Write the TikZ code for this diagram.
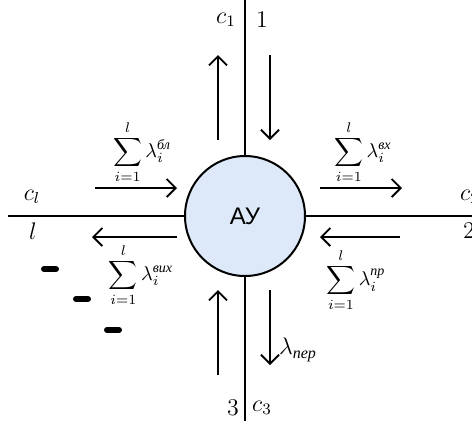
\documentclass[tikz,border=0pt]{standalone}
\usepackage{amsmath}
\usepackage{fontspec}
\usetikzlibrary{arrows.meta}
\newfontfamily\cyrsans{Liberation Sans}
\newfontfamily\cyrserif{Liberation Serif}
\newcommand{\flowidx}[1]{\text{\cyrserif\itshape #1}}
\definecolor{aufill}{RGB}{221,233,248}

\begin{document}
\begin{tikzpicture}[
    x=0.5pt, y=-0.5pt,
    axis/.style={line width=1pt, black},
    unit/.style={circle, draw, line width=1pt, fill=aufill, minimum size=60pt, font=\cyrsans\large},
    flow/.style={-{Straight Barb[length=4.5pt, width=9pt]}, line width=0.9pt},
    lbl/.style={font=\large},
    sumlbl/.style={font=\normalsize, inner sep=0pt},
    gap/.style={line width=3pt, line cap=round},
]
\useasboundingbox (0,0) rectangle (472,420);
% axes
\coordinate (west)  at (8,216);
\coordinate (east)  at (480,216);
\coordinate (north) at (245,-5);
\coordinate (south) at (245,425);
\draw[axis] (west) -- (east);
\draw[axis] (north) -- (south);
\node[unit] (au) at (245,216) {АУ};

% line labels
\node[lbl] (c1)  at (226,20)  {$c_1$};
\node[lbl] (n1)  at (262,20)  {$1$};
\node[lbl] (n3)  at (233,408) {$3$};
\node[lbl] (c3)  at (262,408) {$c_3$};
\node[lbl] (cl)  at (32,197)  {$c_l$};
\node[lbl] (nl)  at (33,231)  {$l$};
\node[lbl] (c2)  at (470,197) {$c_2$};
\node[lbl] (n2)  at (469,231) {$2$};

% arrow ends
\coordinate (nup0)   at (218,140); \coordinate (nup1)   at (218,55);
\coordinate (ndown0) at (270,55);  \coordinate (ndown1) at (270,140);
\coordinate (sup0)   at (218,375); \coordinate (sup1)   at (218,290);
\coordinate (sdown0) at (270,290); \coordinate (sdown1) at (270,365);
\coordinate (win0)   at (95,188);  \coordinate (win1)   at (177,188);
\coordinate (wout0)  at (177,237); \coordinate (wout1)  at (92,237);
\coordinate (ein0)   at (320,188); \coordinate (ein1)   at (402,188);
\coordinate (eout0)  at (400,237); \coordinate (eout1)  at (320,237);

\draw[flow] (nup0) -- (nup1);
\draw[flow] (ndown0) -- (ndown1);
\draw[flow] (sup0) -- (sup1);
\draw[flow] (sdown0) -- (sdown1);
\draw[flow] (win0) -- (win1);
\draw[flow] (wout0) -- (wout1);
\draw[flow] (ein0) -- (ein1);
\draw[flow] (eout0) -- (eout1);

% flow labels
\node[sumlbl] (bl)  at (142,152) {$\displaystyle\sum_{i=1}^{l}\lambda_i^{\flowidx{бл}}$};
\node[sumlbl] (vx)  at (363,152) {$\displaystyle\sum_{i=1}^{l}\lambda_i^{\flowidx{вх}}$};
\node[sumlbl] (vix) at (141,275) {$\displaystyle\sum_{i=1}^{l}\lambda_i^{\flowidx{вих}}$};
\node[sumlbl] (pr)  at (356,280) {$\displaystyle\sum_{i=1}^{l}\lambda_i^{\flowidx{пр}}$};
\node[sumlbl, font=\large] (per) at (298,350) {$\lambda_{\flowidx{пер}}$};

% omitted lines
\draw[gap] (44,269) -- (56,269);
\draw[gap] (76,299) -- (88,299);
\draw[gap] (107,330) -- (119,330);
\end{tikzpicture}
\end{document}
